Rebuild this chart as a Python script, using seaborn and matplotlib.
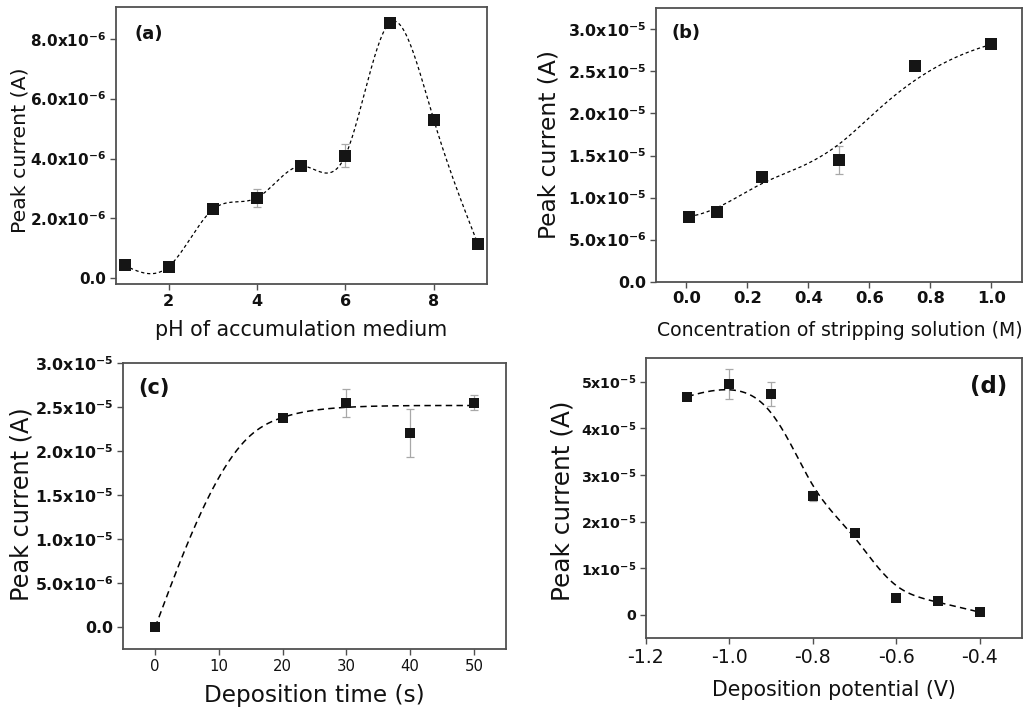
import numpy as np
import matplotlib
matplotlib.use("Agg")
import matplotlib.pyplot as plt
import seaborn as sns

# ---------------- data ----------------
# (a) pH of accumulation medium
ph = [1, 2, 3, 4, 5, 6, 7, 8, 9]
ph_current = [0.43e-6, 0.39e-6, 2.30e-6, 2.69e-6, 3.75e-6, 4.10e-6, 8.53e-6, 5.30e-6, 1.15e-6]
ph_err = [0, 0, 0, 0.30e-6, 0, 0.39e-6, 0, 0, 0]

# (b) concentration of stripping solution
conc = [0.01, 0.1, 0.25, 0.5, 0.75, 1.0]
conc_current = [0.775e-5, 0.826e-5, 1.25e-5, 1.446e-5, 2.563e-5, 2.82e-5]
conc_err = [0, 0, 0, 0.163e-5, 0.05e-5, 0]

# (c) deposition time
dep_time = [0, 20, 30, 40, 50]
time_current = [0.0, 2.381e-5, 2.545e-5, 2.207e-5, 2.552e-5]
time_err = [0, 0.03e-5, 0.16e-5, 0.27e-5, 0.086e-5]
# fitted trend for (c)
time_fit_x = [0, 4, 9, 14.5, 20, 28, 36, 50]
time_fit_y = [0.0, 0.76e-5, 1.57e-5, 2.15e-5, 2.385e-5, 2.49e-5, 2.515e-5, 2.52e-5]

# (d) deposition potential
potential = [-1.1, -1.0, -0.9, -0.8, -0.7, -0.6, -0.5, -0.4]
pot_current = [4.679e-5, 4.95e-5, 4.73e-5, 2.546e-5, 1.762e-5, 0.357e-5, 0.292e-5, 0.057e-5]
pot_err = [0.03e-5, 0.33e-5, 0.26e-5, 0.10e-5, 0.03e-5, 0.03e-5, 0.03e-5, 0.03e-5]

# tick labels
a_yticks = [0, 2e-6, 4e-6, 6e-6, 8e-6]
a_ylabels = ["0.0", r"2.0x10$^{-6}$", r"4.0x10$^{-6}$", r"6.0x10$^{-6}$", r"8.0x10$^{-6}$"]
a_xticks = [2, 4, 6, 8]
a_xlabels = ["2", "4", "6", "8"]

b_yticks = [0, 5e-6, 1e-5, 1.5e-5, 2e-5, 2.5e-5, 3e-5]
b_ylabels = ["0.0", r"5.0x10$^{-6}$", r"1.0x10$^{-5}$", r"1.5x10$^{-5}$",
             r"2.0x10$^{-5}$", r"2.5x10$^{-5}$", r"3.0x10$^{-5}$"]
b_xticks = [0.0, 0.2, 0.4, 0.6, 0.8, 1.0]
b_xlabels = ["0.0", "0.2", "0.4", "0.6", "0.8", "1.0"]

c_yticks = b_yticks
c_ylabels = b_ylabels
c_xticks = [0, 10, 20, 30, 40, 50]
c_xlabels = ["0", "10", "20", "30", "40", "50"]

d_yticks = [0, 1e-5, 2e-5, 3e-5, 4e-5, 5e-5]
d_ylabels = ["0", r"1x10$^{-5}$", r"2x10$^{-5}$", r"3x10$^{-5}$", r"4x10$^{-5}$", r"5x10$^{-5}$"]
d_xticks = [-1.2, -1.0, -0.8, -0.6, -0.4]
d_xlabels = ["-1.2", "-1.0", "-0.8", "-0.6", "-0.4"]


# ---------------- curve helpers ----------------
def natural_spline(x, y, n=400):
    x = np.asarray(x, float)
    y = np.asarray(y, float)
    h = np.diff(x)
    m = len(x)
    A = np.zeros((m, m))
    r = np.zeros(m)
    A[0, 0] = A[-1, -1] = 1.0
    for i in range(1, m - 1):
        A[i, i - 1] = h[i - 1]
        A[i, i] = 2 * (h[i - 1] + h[i])
        A[i, i + 1] = h[i]
        r[i] = 3 * ((y[i + 1] - y[i]) / h[i] - (y[i] - y[i - 1]) / h[i - 1])
    c = np.linalg.solve(A, r)
    b = (y[1:] - y[:-1]) / h - h * (2 * c[:-1] + c[1:]) / 3
    d = (c[1:] - c[:-1]) / (3 * h)
    xs = np.linspace(x[0], x[-1], n)
    idx = np.clip(np.searchsorted(x, xs) - 1, 0, m - 2)
    dx = xs - x[idx]
    ys = y[idx] + b[idx] * dx + c[idx] * dx ** 2 + d[idx] * dx ** 3
    return xs, ys


def bspline(px, py, n=400, k=3):
    P = np.column_stack([px, py]).astype(float)
    m = len(P)
    t = np.concatenate([np.zeros(k + 1), np.arange(1, m - k), np.full(k + 1, m - k)]).astype(float)
    u = np.linspace(0, m - k, n)
    N = np.zeros((n, len(t) - 1))
    for i in range(len(t) - 1):
        N[:, i] = (t[i] <= u) & (u < t[i + 1])
    last = np.max(np.nonzero(t[:-1] < t[1:])[0])
    N[u >= t[-1], last] = 1.0
    for p in range(1, k + 1):
        Nn = np.zeros((n, len(t) - 1 - p))
        for i in range(len(t) - 1 - p):
            a = 0.0
            den1 = t[i + p] - t[i]
            if den1 > 0:
                a = (u - t[i]) / den1 * N[:, i]
            bterm = 0.0
            den2 = t[i + p + 1] - t[i + 1]
            if den2 > 0:
                bterm = (t[i + p + 1] - u) / den2 * N[:, i + 1]
            Nn[:, i] = a + bterm
        N = Nn
    C = N @ P
    return C[:, 0], C[:, 1]


# ---------------- style ----------------
sns.set_theme(style="ticks")
INK = "#111111"
plt.rcParams["font.family"] = ["DejaVu Sans"]
plt.rcParams["mathtext.default"] = "regular"
plt.rcParams["axes.unicode_minus"] = False
plt.rcParams["text.color"] = INK
plt.rcParams["axes.labelcolor"] = INK
plt.rcParams["xtick.labelcolor"] = INK
plt.rcParams["ytick.labelcolor"] = INK

SPINE = "#505050"
ERR = "#a8a8a8"
MARK = "#151515"

fig = plt.figure(figsize=(10.32, 7.07), dpi=100)

W, H = 1032.0, 707.0


def make_axes(l, r, t, b):
    return fig.add_axes([l / W, 1 - b / H, (r - l) / W, (b - t) / H])


ax_a = make_axes(115.7, 486.7, 7.3, 284.3)
ax_b = make_axes(655.7, 1021.7, 8.3, 281.7)
ax_c = make_axes(123.3, 505.7, 363.3, 649.3)
ax_d = make_axes(645.7, 1021.7, 358.3, 638.3)


def style_axes(ax):
    for s in ax.spines.values():
        s.set_color(SPINE)
        s.set_linewidth(1.3)
        s.set_visible(True)
    ax.tick_params(direction="out", length=4, width=1.0, color=SPINE,
                   labelcolor=INK, top=False, right=False, pad=3)


def draw_points(ax, x, y, err, size):
    ax.errorbar(x, y, yerr=err, fmt="none", ecolor=ERR, elinewidth=0.9,
                capsize=2.6, capthick=0.9, zorder=2)
    sns.scatterplot(x=x, y=y, marker="s", s=size, color=MARK,
                    edgecolor=MARK, linewidth=0, zorder=4, ax=ax, legend=False)


def draw_curve(ax, xs, ys, lw, dash):
    sns.lineplot(x=xs, y=ys, sort=False, estimator=None, color="black",
                 linewidth=lw, ax=ax, zorder=3, legend=False)
    ax.lines[-1].set_dashes(dash)


# (a)
ax = ax_a
style_axes(ax)
xs, ys = natural_spline(ph, ph_current)
draw_curve(ax, xs, ys, 0.9, (2.6, 2.2))
draw_points(ax, ph, ph_current, ph_err, 85)
ax.set_xlim(0.8, 9.2)
ax.set_ylim(-2.0e-7, 9.05e-6)
ax.set_yticks(a_yticks, a_ylabels, fontsize=11, fontweight="bold")
ax.set_xticks(a_xticks, a_xlabels, fontsize=11.5, fontweight="bold")
ax.set_xlabel("pH of accumulation medium", fontsize=14.9)
ax.set_ylabel("Peak current (A)", fontsize=14.7)
ax.xaxis.set_label_coords(0.5, -0.165)
ax.xaxis.label.set_va("center")
ax.yaxis.set_label_coords(-0.258, 0.485)
ax.yaxis.label.set_va("center")
ax.text(134.3 / W, 1 - 34.2 / H, "(a)", transform=fig.transFigure,
        fontsize=13, fontweight="bold", ha="left", va="center")

# (b)
ax = ax_b
style_axes(ax)
xs, ys = bspline(conc, conc_current)
draw_curve(ax, xs, ys, 0.9, (2.6, 2.2))
draw_points(ax, conc, conc_current, conc_err, 85)
ax.set_xlim(-0.1, 1.1)
ax.set_ylim(0, 3.25e-5)
ax.set_yticks(b_yticks, b_ylabels, fontsize=11.3, fontweight="bold")
ax.set_xticks(b_xticks, b_xlabels, fontsize=11.8, fontweight="bold")
ax.set_xlabel("Concentration of stripping solution (M)", fontsize=13.6)
ax.set_ylabel("Peak current (A)", fontsize=16.8)
ax.xaxis.set_label_coords(0.502, -0.18)
ax.xaxis.label.set_va("center")
ax.yaxis.set_label_coords(-0.2915, 0.501)
ax.yaxis.label.set_va("center")
ax.text(671.7 / W, 1 - 33.3 / H, "(b)", transform=fig.transFigure,
        fontsize=12.8, fontweight="bold", ha="left", va="center")

# (c)
ax = ax_c
style_axes(ax)
xs, ys = natural_spline(time_fit_x, time_fit_y)
draw_curve(ax, xs, ys, 1.1, (4.2, 2.8))
draw_points(ax, dep_time, time_current, time_err, 48)
ax.set_xlim(-5, 55)
ax.set_ylim(-2.5e-6, 3.0e-5)
ax.set_yticks(c_yticks, c_ylabels, fontsize=11.3, fontweight="bold")
ax.set_xticks(c_xticks, c_xlabels, fontsize=10.7)
ax.set_xlabel("Deposition time (s)", fontsize=16.7)
ax.set_ylabel("Peak current (A)", fontsize=17.3)
ax.xaxis.set_label_coords(0.5, -0.16)
ax.xaxis.label.set_va("center")
ax.yaxis.set_label_coords(-0.2657, 0.509)
ax.yaxis.label.set_va("center")
ax.text(138.3 / W, 1 - 388.3 / H, "(c)", transform=fig.transFigure,
        fontsize=15, fontweight="bold", ha="left", va="center")

# (d)
ax = ax_d
style_axes(ax)
xs, ys = bspline(potential, pot_current)
draw_curve(ax, xs, ys, 1.1, (4.2, 2.8))
draw_points(ax, potential, pot_current, pot_err, 48)
ax.set_xlim(-1.2, -0.3)
ax.set_ylim(-5e-6, 5.5e-5)
ax.set_yticks(d_yticks, d_ylabels, fontsize=10.2, fontweight="bold")
ax.set_xticks(d_xticks, d_xlabels, fontsize=13.6)
ax.set_xlabel("Deposition potential (V)", fontsize=14.8)
ax.set_ylabel("Peak current (A)", fontsize=17.8)
ax.xaxis.set_label_coords(0.501, -0.185)
ax.xaxis.label.set_va("center")
ax.yaxis.set_label_coords(-0.221, 0.491)
ax.yaxis.label.set_va("center")
ax.text(1007.3 / W, 1 - 386.7 / H, "(d)", transform=fig.transFigure,
        fontsize=16.5, fontweight="bold", ha="right", va="center")

fig.savefig("out.png", dpi=100, facecolor="white")
